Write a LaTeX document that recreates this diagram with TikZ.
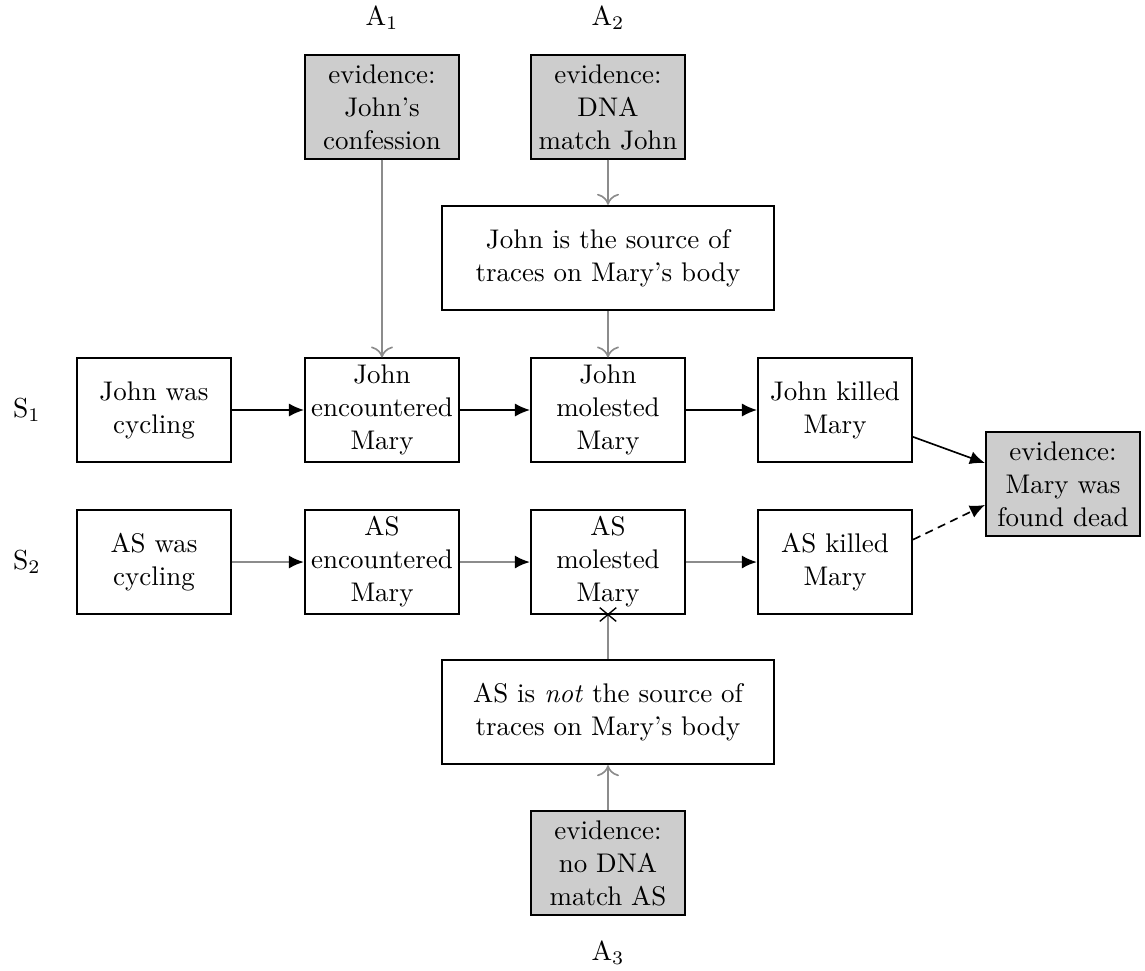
\documentclass[tikz,border=0pt]{standalone}
\usetikzlibrary{arrows.meta,shapes.misc}
\definecolor{evfill}{RGB}{205,205,205}
\definecolor{supp}{RGB}{140,140,140}
\tikzset{
  box/.style={draw=black, line width=0.7pt, align=center, inner sep=1pt,
              minimum width=56pt, minimum height=37.5pt,
              font=\fontsize{9.8}{12}\selectfont},
  widebox/.style={box, minimum width=121pt, minimum height=38pt},
  evbox/.style={box, fill=evfill},
  lbl/.style={inner sep=0pt},
  causal/.style={draw=black, line width=0.6pt, -{Latex[length=5.5pt,width=4.8pt]}},
  causalalt/.style={draw=supp, line width=0.9pt, -{Latex[length=5.5pt,width=4.8pt,color=black]}},
  support/.style={draw=supp, line width=0.6pt, -{To[length=4pt,width=8pt]}},
  conflict/.style={draw=supp, line width=0.9pt},
  xmark/.style={cross out, draw=black, line width=0.5pt, minimum width=5.5pt, minimum height=4.5pt, inner sep=0pt},
}
\begin{document}
\begin{tikzpicture}[x=0.3636pt,y=-0.3636pt]
\useasboundingbox (0,0) rectangle (1145,970);

% scenario and argument labels
\node[lbl] (a1) at (382,18) {A$_1$};
\node[lbl] (a2) at (608,18) {A$_2$};
\node[lbl] (a3) at (608,953) {A$_3$};
\node[lbl] (s1) at (27,410) {S$_1$};
\node[lbl] (s2) at (27,562) {S$_2$};

% evidence
\node[evbox] (conf) at (382,107) {evidence:\\John's\\confession};
\node[evbox] (dnaj) at (608,107) {evidence:\\DNA\\match John};
\node[evbox] (dead) at (1063,484) {evidence:\\Mary was\\found dead};
\node[evbox] (dnaas) at (608,863) {evidence:\\no DNA\\match AS};

% intermediate conclusions
\node[widebox] (src) at (608,258) {John is the source of\\traces on Mary's body};
\node[widebox] (notsrc) at (608,712) {AS is \emph{not} the source of\\traces on Mary's body};

% scenario 1
\node[box] (jcyc) at (154,410) {John was\\cycling};
\node[box] (jenc) at (382,410) {John\\encountered\\Mary};
\node[box] (jmol) at (608,410) {John\\molested\\Mary};
\node[box] (jkill) at (835,410) {John killed\\Mary};

% scenario 2
\node[box] (ascyc) at (154,562) {AS was\\cycling};
\node[box] (asenc) at (382,562) {AS\\encountered\\Mary};
\node[box] (asmol) at (608,562) {AS\\molested\\Mary};
\node[box] (askill) at (835,562) {AS killed\\Mary};

% causal chains
\draw[causal] (jcyc) -- (jenc);
\draw[causal] (jenc) -- (jmol);
\draw[causal] (jmol) -- (jkill);
\draw[causal] (jkill.-19) -- (dead.165);

\draw[causalalt] (ascyc) -- (asenc);
\draw[causalalt] (asenc) -- (asmol);
\draw[causalalt] (asmol) -- (askill);
\draw[causal, densely dashed] (askill.16) -- (dead.195);

% supporting arguments
\draw[support] (conf) -- (jenc);
\draw[support] (dnaj) -- (src);
\draw[support] (src) -- (jmol);
\draw[support] (dnaas) -- (notsrc);

% attacking argument
\draw[conflict] (notsrc) -- (asmol);
\node[xmark] (attack) at (asmol.south) {};
\end{tikzpicture}
\end{document}
